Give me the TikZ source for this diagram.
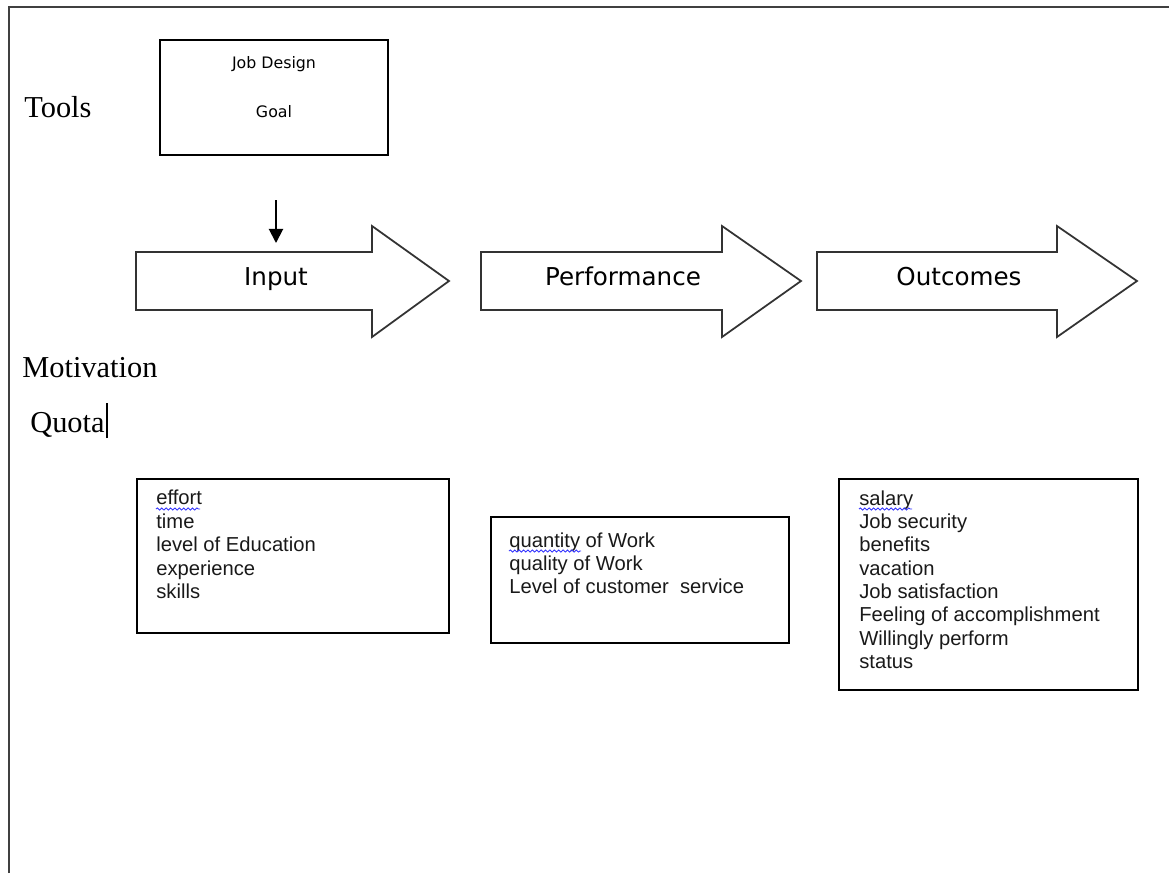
\documentclass[tikz,border=0pt]{standalone}
\usepackage{fontspec}
\setmainfont{Liberation Serif}
\newfontfamily\labelfont{DejaVu Sans}
\newfontfamily\listfont{Liberation Sans}
\usetikzlibrary{arrows.meta}
\usetikzlibrary{decorations.pathmorphing}

\tikzset{
  frame/.style={draw=black!75, line width=1.3pt},
  box/.style={draw, line width=1.1pt, rectangle, inner sep=0pt},
  bigarrow/.style={draw=black!80, line width=1pt, fill=white, line join=miter},
  arrowlabel/.style={anchor=base, inner sep=0pt, font=\labelfont\fontsize{14}{17}\selectfont},
  small/.style={anchor=base, inner sep=0pt, font=\labelfont\fontsize{9}{11}\selectfont},
  side/.style={anchor=base west, inner sep=0pt, font=\fontsize{17.3}{20}\selectfont},
  list/.style={anchor=north west, inner sep=0pt, align=left, text=black!90,
    font=\listfont\fontsize{11.5}{13.3}\selectfont},
  spell/.style={draw=blue!80, line width=0.5pt, decorate,
    decoration={snake, amplitude=0.6pt, segment length=2.5pt}}
}

\begin{document}
\begin{tikzpicture}[x=0.02cm, y=-0.02cm]
\useasboundingbox (0,0) rectangle (1169,873);

% page frame
\coordinate (framebottom) at (9,873);
\coordinate (framecorner) at (9,7);
\coordinate (frameright) at (1169,7);
\draw[frame] (framebottom) -- (framecorner) -- (frameright);

% side labels
\node[side] (tools) at (24,117) {Tools};
\node[side] (motivation) at (22,377) {Motivation};
\node[side] (quota) at (30,432) {Quota};
\draw[line width=0.8pt] ([shift={(2,6)}]quota.base east) -- ([shift={(2,-29)}]quota.base east);

% tools box
\node[box, minimum width=4.56cm, minimum height=2.3cm] (toolbox) at (274,97.5) {};
\node[small] (design) at (274,68) {Job Design};
\node[small] (goal) at (274,117) {Goal};

% big arrows
\foreach \x/\b/\t in {136/236/313, 481/241/320, 817/240/320}
  \draw[bigarrow] (\x,252) -- ++(\b,0) -- ++(0,-26) -- (\x+\t,281)
    -- (\x+\b,337) -- ++(0,-27) -- (\x,310) -- cycle;
\node[arrowlabel] (input) at (276,285) {Input};
\node[arrowlabel] (performance) at (623,285) {Performance};
\node[arrowlabel] (outcomes) at (959,285) {Outcomes};

% drop arrow
\coordinate (dropstart) at (276,200);
\coordinate (dropend) at (276,243);
\draw[line width=1.1pt, -{Triangle[width=8pt, length=8pt]}] (dropstart) -- (dropend);

% lists
\node[box, minimum width=6.24cm, minimum height=3.08cm] (inbox) at (293,556) {};
\node[box, minimum width=5.96cm, minimum height=2.52cm] (perfbox) at (640,580) {};
\node[box, minimum width=5.98cm, minimum height=4.22cm] (outbox) at (988.5,584.5) {};

\node[list] (inlist) at (156,490) {effort\\time\\level of Education\\experience\\skills};
\node[list] (perflist) at (509,532) {quantity of Work\\quality of Work\\Level of customer\ \ service};
\node[list] (outlist) at (859,490) {salary\\Job security\\benefits\\vacation\\Job satisfaction\\Feeling of accomplishment\\Willingly perform\\status};

\draw[spell] ([shift={(0,19)}]inlist.north west) -- ++(44,0);
\draw[spell] ([shift={(0,19)}]perflist.north west) -- ++(72,0);
\draw[spell] ([shift={(0,19)}]outlist.north west) -- ++(53,0);
\end{tikzpicture}
\end{document}
